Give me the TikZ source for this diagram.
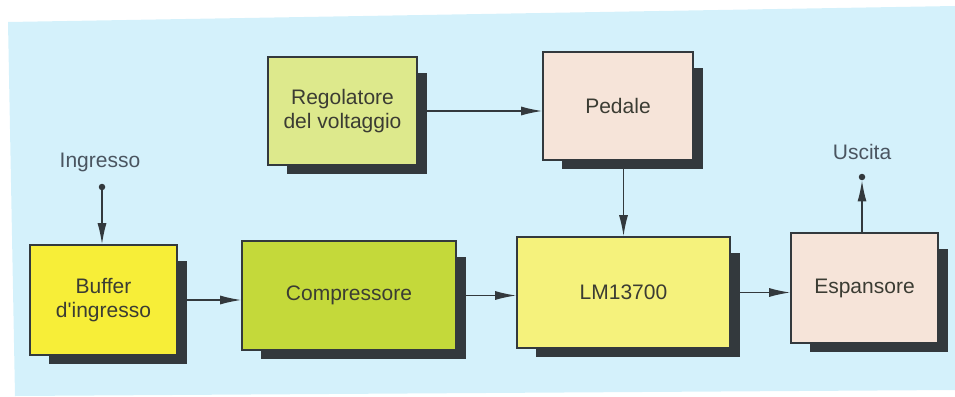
\documentclass[tikz,border=0pt]{standalone}
\usepackage{fontspec}
\setmainfont{Liberation Sans}
\usetikzlibrary{arrows.meta,calc,backgrounds}
\definecolor{bgblue}{HTML}{D4F1FB}
\definecolor{cbuf}{HTML}{F7EE38}
\definecolor{ccomp}{HTML}{C4D93A}
\definecolor{creg}{HTML}{DDE98C}
\definecolor{cped}{HTML}{F6E4D9}
\definecolor{clm}{HTML}{F5F27C}
\definecolor{cshadow}{HTML}{33393D}
\definecolor{ctext}{HTML}{3B3C33}
\definecolor{clabel}{HTML}{4A5560}
\begin{document}
\begin{tikzpicture}[x=1pt,y=-1pt,
  blk/.style={draw=cshadow,line width=1.6pt,align=center,text=ctext,inner sep=0pt,
    font=\fontsize{21}{24}\selectfont},
  lbl/.style={text=clabel,font=\fontsize{21}{24}\selectfont,inner sep=0pt},
  conn/.style={draw=cshadow,line width=1.4pt,-{Latex[length=21pt,width=9pt]}},
  term/.style={circle,fill=cshadow,inner sep=0pt,minimum size=6.5pt}]
\useasboundingbox (0,0) rectangle (955,396);
\node[blk,fill=cbuf,minimum width=147pt,minimum height=110pt] (buf) at (103.5,300) {Buffer\\d\textquotesingle ingresso};
\node[blk,fill=ccomp,minimum width=214pt,minimum height=109pt] (comp) at (349,295.5) {Compressore};
\node[blk,fill=creg,minimum width=149pt,minimum height=108pt] (reg) at (342.5,111) {Regolatore\\del voltaggio};
\node[blk,fill=cped,minimum width=150pt,minimum height=108pt] (ped) at (618,106) {Pedale};
\node[blk,fill=clm,minimum width=213pt,minimum height=111pt] (lm) at (623.5,292.5) {LM13700};
\node[blk,fill=cped,minimum width=147pt,minimum height=110pt] (esp) at (864.5,288) {Espansore};
\node[lbl] (ing) at (100,162) {Ingresso};
\node[lbl] (usc) at (862,152) {Uscita};
\node[term] (in) at (102,187) {};
\node[term] (out) at (862,177) {};
\begin{scope}[on background layer]
  \fill[bgblue] (8,22) -- (955,6) -- (955,390) -- (15,396) -- cycle;
  \foreach \n in {buf,comp,reg,ped,lm,esp}
    \fill[cshadow] ($(\n.north west)+(20,17)$) rectangle ($(\n.south east)+(9,8)$);
\end{scope}
\draw[conn] (in) -- (in |- buf.north);
\draw[conn] (buf.east) -- (buf.east -| comp.west);
\draw[conn] (comp.east) -- (comp.east -| lm.west);
\draw[conn] (reg.east) -- (reg.east -| ped.west);
\draw[conn] (lm.north |- ped.south) -- (lm.north);
\draw[conn] (lm.east) -- (lm.east -| esp.west);
\draw[conn] (out |- esp.north) -- (out);
\end{tikzpicture}
\end{document}
